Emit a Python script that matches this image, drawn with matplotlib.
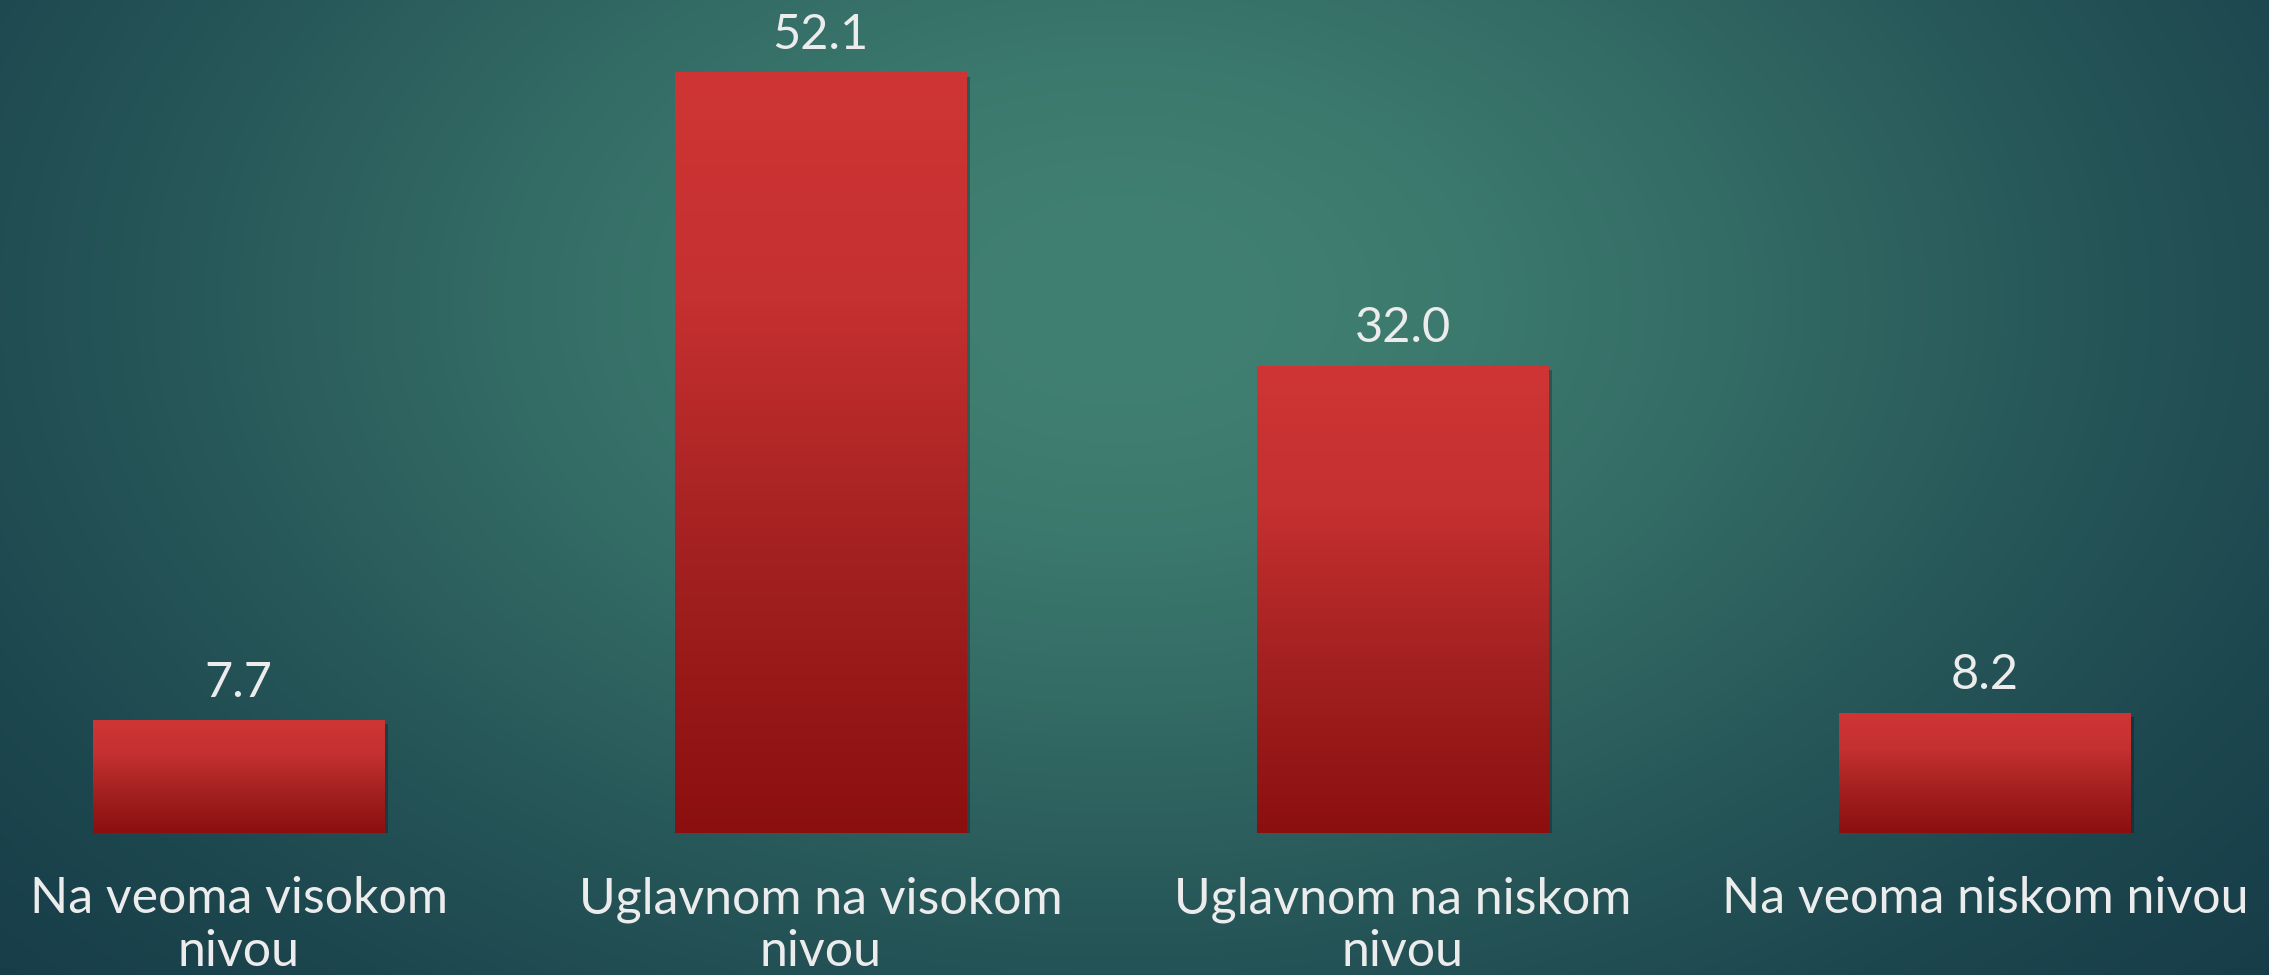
import numpy as np
import matplotlib.pyplot as plt
from matplotlib.colors import LinearSegmentedColormap

# data
categories = ["Na veoma visokom\nnivou", "Uglavnom na visokom\nnivou",
              "Uglavnom na niskom\nnivou", "Na veoma niskom nivou"]
values = [7.7, 52.1, 32.0, 8.2]

plt.rcParams['font.family'] = ['Lato', 'DejaVu Sans']
textColor = "#ececec"

W, H = 2269, 975
fig = plt.figure(figsize=(W / 100, H / 100), dpi=100)

# teal radial background
bg = fig.add_axes([0, 0, 1, 1])
yy, xx = np.mgrid[0:H, 0:W]
w = np.exp(-((xx - 1120) / 1100.0) ** 2 - ((yy - 300) / 720.0) ** 2)
dark = np.array([16, 50, 66]) / 255.0
light = np.array([64, 128, 114]) / 255.0
img = dark[None, None, :] + w[..., None] * (light - dark)[None, None, :]
bg.imshow(img, aspect="auto", extent=[0, 1, 0, 1], origin="upper")
bg.set_axis_off()

# chart axes: baseline at 142 px from bottom
ax = fig.add_axes([0, 142 / H, 1, 1 - 142 / H])
ax.patch.set_alpha(0)
x = np.arange(len(values))
bars = ax.bar(x, values, width=0.5, color="none", zorder=2)

barCmap = LinearSegmentedColormap.from_list(
    "barGrad", [(0.0, "#cf3535"), (0.3, "#c53030"), (0.65, "#a22020"), (1.0, "#8c0f0f")])
grad = np.linspace(0, 1, 256).reshape(-1, 1)
for b in bars:
    x0, w_, h = b.get_x(), b.get_width(), b.get_height()
    # soft drop shadow
    ax.bar(x0 + w_ / 2 + 0.006, h, width=w_, bottom=-0.25, color="black",
           alpha=0.25, zorder=1, linewidth=0)
    ax.imshow(grad, cmap=barCmap, aspect="auto", extent=[x0, x0 + w_, 0, h],
              origin="upper", zorder=3)
    ax.text(x0 + w_ / 2, h + 1.1, "{:.1f}".format(h), ha="center", va="bottom",
            fontsize=35, color=textColor, zorder=4)

ax.set_xticks(x)
ax.set_xticklabels(categories, fontsize=36, color=textColor, linespacing=1.18)
ax.tick_params(axis="x", length=0, pad=31)
ax.set_yticks([])
for s in ax.spines.values():
    s.set_visible(False)
ax.set_xlim(-0.41, 3.488)
ax.set_ylim(0, 57.1)

fig.savefig("out.png", dpi=100)
